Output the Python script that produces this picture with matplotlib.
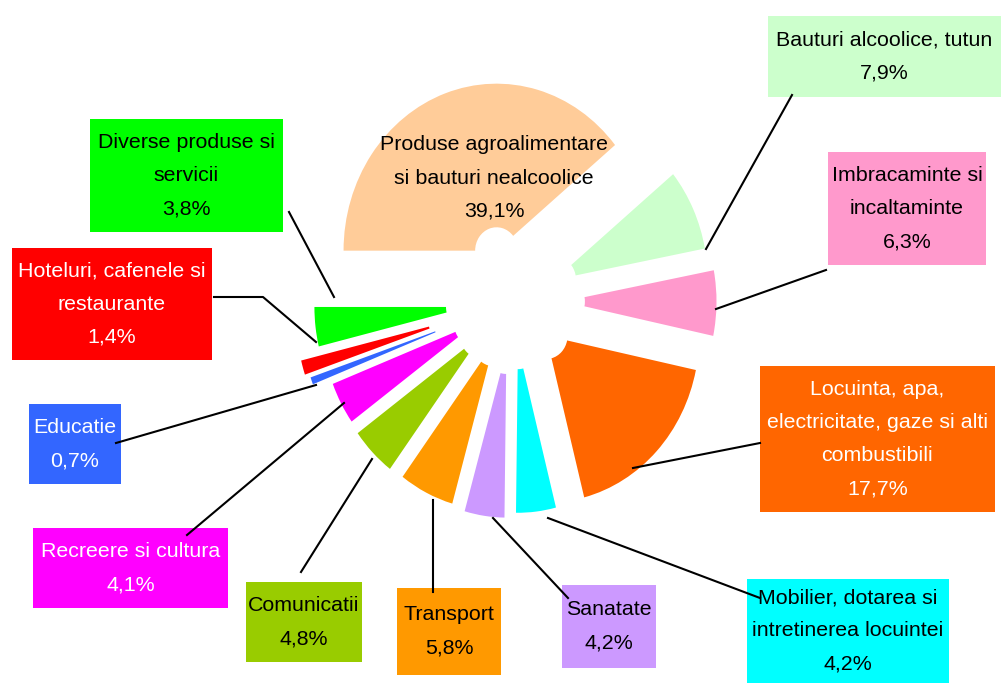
import matplotlib
matplotlib.use("Agg")
import matplotlib.pyplot as plt
from matplotlib.patches import Rectangle

plt.rcParams['font.family'] = ['Liberation Sans', 'DejaVu Sans']

categories = ['Produse agroalimentare\nsi bauturi nealcoolice', 'Bauturi alcoolice, tutun',
              'Imbracaminte si\nincaltaminte', 'Locuinta, apa,\nelectricitate, gaze si alti\ncombustibili',
              'Mobilier, dotarea si\nintretinerea locuintei', 'Sanatate', 'Transport', 'Comunicatii',
              'Recreere si cultura', 'Educatie', 'Hoteluri, cafenele si\nrestaurante',
              'Diverse produse si\nservicii']
values = [39.1, 7.9, 6.3, 17.7, 4.2, 4.2, 5.8, 4.8, 4.1, 0.7, 1.4, 3.8]
colors = ['#FFCC99', '#CCFFCC', '#FF99CC', '#FF6600', '#00FFFF', '#CC99FF',
          '#FF9900', '#99CC00', '#FF00FF', '#3366FF', '#FF0000', '#00FF00']
explode = [0.32, 0.30, 0.33, 0.30, 0.27, 0.30, 0.28, 0.29, 0.28, 0.40, 0.43, 0.30]
text_colors = ['black', 'black', 'black', 'white', 'black', 'black',
               'black', 'black', 'white', 'white', 'white', 'black']

W, H = 1001, 684
fig = plt.figure(figsize=(W / 100, H / 100), dpi=100)

# pie in its own axes, stretched a little vertically like the original
cx, cy, sx, sy = 513, 301, 153, 167
ax = fig.add_axes([0, 0, 1, 1])
ax.pie(values, colors=colors, startangle=180, counterclock=False, explode=explode,
       radius=1, wedgeprops=dict(width=0.86, linewidth=0))
ax.set_aspect('auto')
ax.set_xlim(-cx / sx, (W - cx) / sx)
ax.set_ylim(-(H - cy) / sy, cy / sy)
ax.axis('off')

# overlay in pixel coordinates for label boxes and leader lines
ov = fig.add_axes([0, 0, 1, 1])
ov.set_xlim(0, W)
ov.set_ylim(H, 0)
ov.axis('off')
ov.patch.set_alpha(0)

# label boxes (x0, y0, x1, y1); None = label drawn inside the slice
boxes = [None, (768, 16, 1001, 97), (828, 152, 986, 265), (760, 366, 995, 512),
         (747, 579, 949, 683), (562, 585, 656, 668), (397, 588, 501, 675),
         (246, 582, 362, 662), (33, 528, 228, 608), (29, 404, 121, 484),
         (12, 248, 212, 360), (90, 119, 283, 232)]
leaders = [None, [(792, 95), (706, 249)], [(826, 270), (716, 309)], [(760, 443), (633, 468)],
           [(760, 598), (548, 518)], [(568, 598), (493, 518)], [(433, 592), (433, 500)],
           [(301, 572), (372, 459)], [(187, 535), (344, 403)], [(116, 443), (316, 385)],
           [(214, 297), (263, 297), (316, 342)], [(289, 212), (334, 297)]]

for i, (cat, val) in enumerate(zip(categories, values)):
    label = f"{cat}\n{val:.1f}%".replace('.', ',')
    if boxes[i] is None:
        ov.text(494, 178, label, ha='center', va='center', fontsize=15.4,
                linespacing=1.95, color=text_colors[i])
        continue
    x0, y0, x1, y1 = boxes[i]
    ov.add_patch(Rectangle((x0, y0), x1 - x0, y1 - y0, facecolor=colors[i],
                           edgecolor='none', zorder=2))
    ov.text((x0 + x1) / 2, (y0 + y1) / 2, label, ha='center', va='center',
            fontsize=15.4, linespacing=1.95, color=text_colors[i], zorder=3)
    xs = [p[0] for p in leaders[i]]
    ys = [p[1] for p in leaders[i]]
    ov.plot(xs, ys, color='black', lw=1.5, zorder=4)

fig.savefig('out.png', dpi=100)
